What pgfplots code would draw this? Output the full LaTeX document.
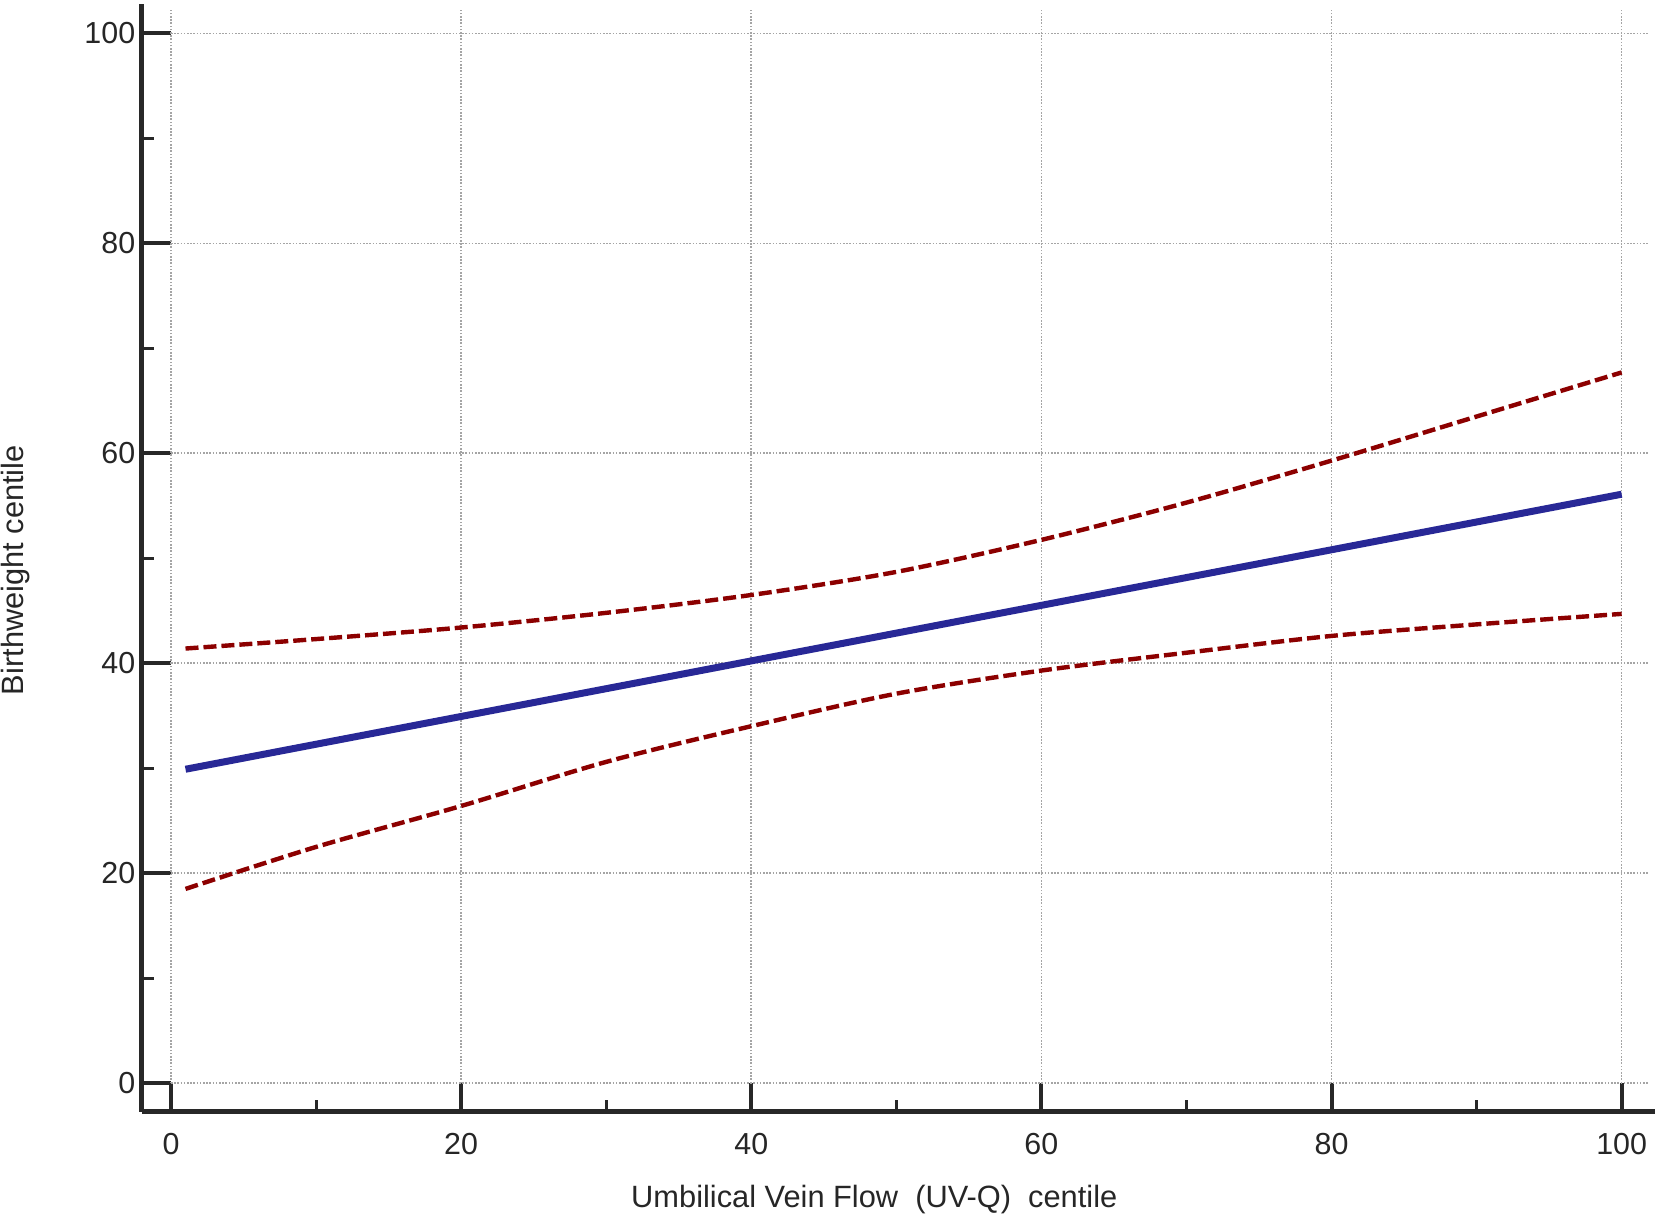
\documentclass[border=0pt]{standalone}
\usepackage{pgfplots}
\pgfplotsset{compat=1.18}
\usepackage{fontspec}
\setmainfont{Liberation Sans}

\definecolor{fitblue}{RGB}{40,40,150}
\definecolor{bandred}{RGB}{140,0,0}
\definecolor{gridgray}{RGB}{165,165,165}
\definecolor{axisdark}{RGB}{40,40,40}

% fitted line and confidence band
\pgfplotstableread{
x y
1 29.9
100 56.1
}\fitline
\pgfplotstableread{
x y
1 41.4
10 42.3
20 43.4
30 44.8
40 46.5
50 48.7
60 51.75
70 55.3
80 59.3
90 63.5
100 67.7
}\upperband
\pgfplotstableread{
x y
1 18.5
10 22.5
20 26.4
30 30.6
40 34.0
50 37.1
60 39.3
70 41.0
80 42.6
90 43.7
100 44.7
}\lowerband

\begin{document}
\begin{tikzpicture}
\begin{axis}[
    scale only axis,
    width=378.25pt, height=277pt,
    xmin=-2, xmax=102.3,
    ymin=-2.75, ymax=102.8,
    axis x line*=bottom, axis y line*=left,
    x axis line style={-, line width=1.25pt, color=axisdark},
    y axis line style={-, line width=1.25pt, color=axisdark},
    xtick={0,20,...,100}, ytick={0,20,...,100},
    minor xtick={10,30,...,90}, minor ytick={10,30,...,90},
    tick align=inside,
    major tick length=7.25pt, minor tick length=3pt,
    every major tick/.append style={line width=1pt, color=axisdark},
    every minor tick/.append style={line width=0.75pt, color=axisdark},
    tick label style={font=\fontsize{7.6}{9}\selectfont, text=black!85},
    /pgf/number format/assume math mode=true,
    xticklabel style={inner sep=0pt, yshift=-5pt},
    yticklabel style={inner sep=0pt, xshift=-1.5pt},
    xlabel={Umbilical Vein Flow\ \ (UV-Q)\ \ centile},
    ylabel={Birthweight centile},
    label style={font=\fontsize{7.7}{9}\selectfont, text=black!85, inner sep=0pt},
    xlabel style={at={(axis description cs:0.484,0)}, anchor=base, yshift=-24pt},
    ylabel style={at={(axis description cs:0,0.489)}, anchor=center, yshift=31.5pt},
    clip=false,
]
\pgfplotsinvokeforeach{0,20,40,60,80,100}{
    \draw[gridgray, line width=0.4pt, dash pattern=on 0.4pt off 0.4pt]
        (axis cs:#1,0) -- (axis cs:#1,102.2);
    \draw[gridgray, line width=0.4pt, dash pattern=on 0.4pt off 0.4pt]
        (axis cs:0,#1) -- (axis cs:101.9,#1);
}
\addplot[bandred, line width=1.1pt, dash pattern=on 3.25pt off 1.25pt, smooth, no markers] table {\upperband};
\addplot[bandred, line width=1.1pt, dash pattern=on 3.25pt off 1.25pt, smooth, no markers] table {\lowerband};
\addplot[fitblue, line width=1.75pt, no markers] table {\fitline};
\end{axis}
\path (current axis.south west) ++(-35.5pt,-26.5pt) coordinate (bl);
\path (current axis.north east) ++(1pt,1pt) coordinate (tr);
\path (bl) rectangle (tr);
\end{tikzpicture}
\end{document}
